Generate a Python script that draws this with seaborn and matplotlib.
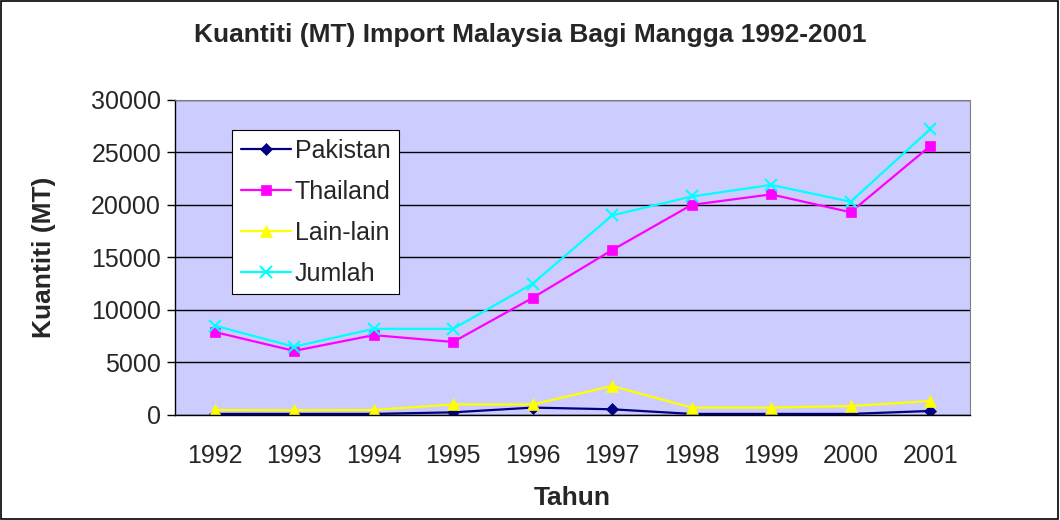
import numpy as np
import pandas as pd
import matplotlib
matplotlib.use('Agg')
import matplotlib.pyplot as plt
import seaborn as sns

# Data
tahun = ['1992', '1993', '1994', '1995', '1996', '1997', '1998', '1999', '2000', '2001']
pakistan = [100, 100, 100, 250, 700, 540, 100, 100, 100, 380]
thailand = [7900, 6100, 7600, 6950, 11150, 15700, 20000, 21000, 19300, 25600]
lain_lain = [480, 450, 480, 1000, 1000, 2760, 700, 700, 850, 1330]
jumlah = [8500, 6500, 8200, 8200, 12500, 19000, 20800, 21900, 20300, 27200]

series = {
    'Pakistan': (pakistan, '#000080', 'D', 6),
    'Thailand': (thailand, '#FF00FF', 's', 7),
    'Lain-lain': (lain_lain, '#FFFF00', '^', 9),
    'Jumlah': (jumlah, '#00FFFF', 'x', 9),
}

sns.set_style('white')
plt.rcParams['font.family'] = ['Liberation Sans', 'DejaVu Sans']

fig = plt.figure(figsize=(10.6, 5.2), dpi=100)
ax = fig.add_axes([0.165, 0.202, 0.75, 0.606])
ax.set_facecolor('#CCCCFF')

x = np.arange(len(tahun))
for nama, (vals, warna, mk, ms) in series.items():
    sns.lineplot(x=x, y=vals, ax=ax, color=warna, marker=mk, markersize=ms,
                 markeredgecolor=warna, markeredgewidth=1.5 if mk == 'x' else 0.5,
                 linewidth=1.6, label=nama)

ax.set_xlim(-0.5, len(tahun) - 0.5)
ax.set_ylim(0, 30000)
ax.set_yticks(range(0, 30001, 5000))
ax.set_yticklabels([str(v) for v in range(0, 30001, 5000)], fontsize=18)
ax.set_xticks(x)
ax.set_xticklabels(tahun, fontsize=18)
ax.set_xticks(np.arange(-0.5, len(tahun)), minor=True)
ax.tick_params(axis='x', which='major', length=0, pad=21)
ax.tick_params(axis='x', which='minor', length=6, width=1, color='black', direction='out')
ax.tick_params(axis='y', length=6, width=1, color='black', direction='out', left=True, pad=4)

ax.grid(axis='y', color='black', linewidth=1)
ax.set_axisbelow(True)
for s in ['top', 'right']:
    ax.spines[s].set_color('#808080')
for s in ['left', 'bottom']:
    ax.spines[s].set_color('black')
    ax.spines[s].set_linewidth(1)

ax.set_xlabel('Tahun', fontsize=19, fontweight='bold')
ax.set_ylabel('Kuantiti (MT)', fontsize=19, fontweight='bold')
ax.xaxis.set_label_coords(0.5, -0.225)
ax.yaxis.set_label_coords(-0.15, 0.5)
fig.suptitle('Kuantiti (MT) Import Malaysia Bagi Mangga 1992-2001', fontsize=19,
             fontweight='bold', y=0.955)

leg = ax.legend(loc='upper left', bbox_to_anchor=(0.072, 0.905), fontsize=18,
                frameon=True, fancybox=False, framealpha=1, edgecolor='black',
                handlelength=2.0, labelspacing=0.68, borderpad=0.35, handletextpad=0.15,
                borderaxespad=0)
leg.get_frame().set_linewidth(0.8)

fig.patches.append(plt.Rectangle((0.001, 0.001), 0.997, 0.997, transform=fig.transFigure,
                                 fill=False, edgecolor='black', linewidth=1.2))

fig.savefig('out.png', dpi=100)
